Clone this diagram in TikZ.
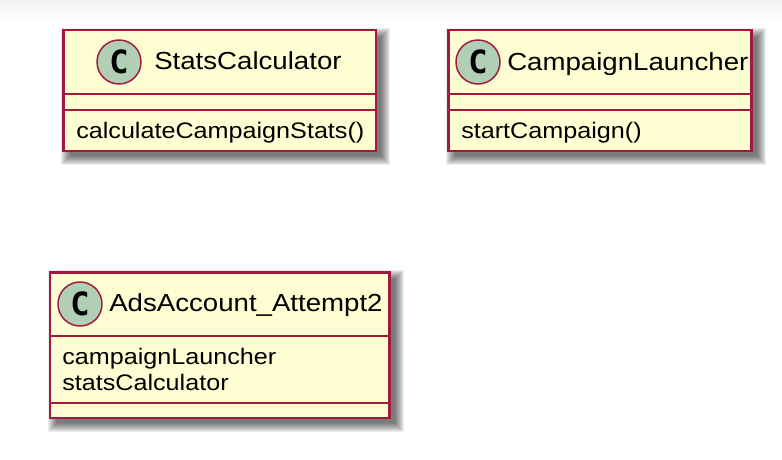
\documentclass[tikz,border=0pt]{standalone}
\usepackage{fontspec}
\setmainfont[FakeStretch=1.12]{Liberation Sans}
\newfontfamily\spotfont{DejaVu Sans Mono}
\usetikzlibrary{backgrounds}

\definecolor{classred}{HTML}{A3183E}
\definecolor{classfill}{HTML}{FEFED2}
\definecolor{spotfill}{HTML}{B0CFB4}

\tikzset{
	classbox/.style={draw=classred, fill=classfill, line width=2.1pt, inner sep=0pt},
	classline/.style={draw=classred, line width=2pt},
	spot/.style={circle, draw=classred, fill=spotfill, line width=1.1pt, minimum size=33pt, inner sep=0pt, font=\spotfont\bfseries\fontsize{24pt}{24pt}\selectfont},
	label/.style={anchor=base west, inner sep=0pt, font=\fontsize{16.85pt}{16.85pt}\selectfont},
	titlelabel/.style={label, font=\fontsize{18.5pt}{18.5pt}\selectfont},
	shadowlayer/.style={fill=black, fill opacity=0.07, draw=none}
}

% soft shadow behind a class box
\newcommand{\boxshadow}[1]{
	\begin{scope}[on background layer]
		\foreach \g in {7,6,5,4,3,2,1,0,-1,-2}
			\fill[shadowlayer] ([shift={(6-\g,6-\g)}]#1.north west) rectangle ([shift={(6+\g,6+\g)}]#1.south east);
	\end{scope}
}

\begin{document}
\begin{tikzpicture}[x=0.75pt, y=-0.75pt]
	\useasboundingbox (0,0) rectangle (782,460);
	\fill[top color=black!5, bottom color=white] (0,0) rectangle (782,24);

	\node[classbox, minimum width=234.4pt, minimum height=90.75pt] (statscalc) at (219.75,90.5){};
	\node[classbox, minimum width=227.4pt, minimum height=90.75pt] (launcher) at (599.9,90.5){};
	\node[classbox, minimum width=254.6pt, minimum height=109.3pt] (account) at (219.75,345.15){};
	\boxshadow{statscalc}
	\boxshadow{launcher}
	\boxshadow{account}

	\draw[classline] (statscalc.west |- 0,94) -- (statscalc.east |- 0,94);
	\draw[classline] (statscalc.west |- 0,110) -- (statscalc.east |- 0,110);
	\draw[classline] (launcher.west |- 0,94) -- (launcher.east |- 0,94);
	\draw[classline] (launcher.west |- 0,110) -- (launcher.east |- 0,110);
	\draw[classline] (account.west |- 0,336) -- (account.east |- 0,336);
	\draw[classline] (account.west |- 0,403) -- (account.east |- 0,403);

	\node[spot] (statsspot) at (119,62) {C};
	\node[spot] (launcherspot) at (478,62) {C};
	\node[spot] (accountspot) at (80,304) {C};

	\node[titlelabel] (statsname) at (154,69.5) {StatsCalculator};
	\node[label] (statsmethod) at (76,138.5) {calculateCampaignStats()};
	\node[titlelabel] (launchername) at (507,70) {CampaignLauncher};
	\node[label] (launchermethod) at (461,138.5) {startCampaign()};
	\node[titlelabel] (accountname) at (109,311.5) {AdsAccount\_Attempt2};
	\node[label] (accountfielda) at (62,364) {campaignLauncher};
	\node[label] (accountfieldb) at (62,390) {statsCalculator};
\end{tikzpicture}
\end{document}
